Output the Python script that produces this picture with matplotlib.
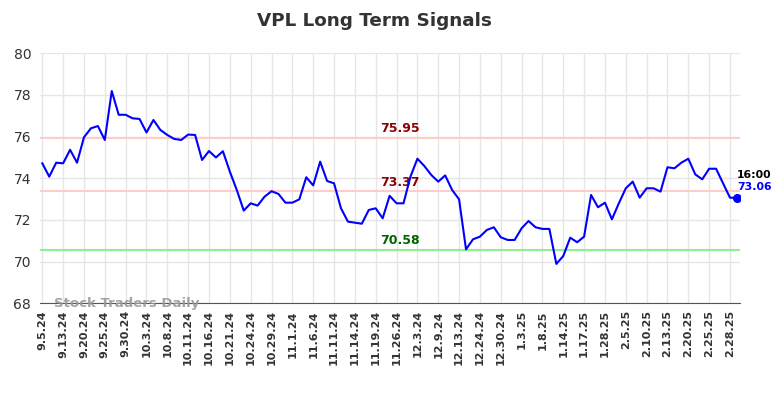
import matplotlib
matplotlib.use("Agg")
import matplotlib.pyplot as plt
import numpy as np

# daily closing values
prices = [74.72, 74.08, 74.75, 74.72, 75.37, 74.75, 75.97, 76.40, 76.51, 75.84,
          78.19, 77.05, 77.05, 76.88, 76.85, 76.20, 76.80, 76.32, 76.08, 75.89,
          75.84, 76.10, 76.08, 74.88, 75.31, 75.00, 75.30, 74.32, 73.44, 72.45,
          72.80, 72.69, 73.12, 73.38, 73.25, 72.83, 72.83, 72.99, 74.05, 73.66,
          74.80, 73.87, 73.76, 72.56, 71.92, 71.87, 71.82, 72.48, 72.56, 72.08,
          73.16, 72.80, 72.80, 74.08, 74.94, 74.59, 74.16, 73.84, 74.14, 73.44,
          72.99, 70.59, 71.07, 71.20, 71.52, 71.65, 71.17, 71.04, 71.04, 71.60,
          71.95, 71.65, 71.57, 71.57, 69.89, 70.27, 71.15, 70.93, 71.20, 73.20,
          72.61, 72.83, 72.03, 72.80, 73.52, 73.84, 73.07, 73.52, 73.52, 73.36,
          74.53, 74.48, 74.75, 74.94, 74.19, 73.95, 74.46, 74.46, 73.76, 73.07,
          73.06]

tick_labels = ['9.5.24', '9.13.24', '9.20.24', '9.25.24', '9.30.24', '10.3.24',
               '10.8.24', '10.11.24', '10.16.24', '10.21.24', '10.24.24', '10.29.24',
               '11.1.24', '11.6.24', '11.11.24', '11.14.24', '11.19.24', '11.26.24',
               '12.3.24', '12.9.24', '12.13.24', '12.24.24', '12.30.24', '1.3.25',
               '1.8.25', '1.14.25', '1.17.25', '1.28.25', '2.5.25', '2.10.25',
               '2.13.25', '2.20.25', '2.25.25', '2.28.25']

resistance = [75.95, 73.37]
support = [70.58]
last_time = '16:00'

x = np.arange(len(prices))
tick_pos = np.arange(0, len(tick_labels) * 3, 3)

fig = plt.figure(figsize=(7.84, 3.98), dpi=100)
ax = fig.add_axes([0.0504, 0.238, 0.894, 0.628])

for lvl in resistance:
    ax.axhline(lvl, color='#ffcccc', lw=1.5, zorder=1)
    ax.text(51.5, lvl + 0.12, f'{lvl:.2f}', color='#8b0000', fontsize=9,
            fontweight='bold', ha='center', va='bottom')
for lvl in support:
    ax.axhline(lvl, color='#90ee90', lw=1.5, zorder=1)
    ax.text(51.5, lvl + 0.12, f'{lvl:.2f}', color='#006400', fontsize=9,
            fontweight='bold', ha='center', va='bottom')

ax.plot(x, prices, color='blue', lw=1.5, zorder=3)
ax.plot(x[-1], prices[-1], 'o', color='blue', ms=5.5, zorder=4)
ax.text(x[-1] + 0.05, prices[-1] + 1.1, last_time, color='black', fontsize=7.8,
        fontweight='bold', ha='left', va='center')
ax.text(x[-1] + 0.05, prices[-1] + 0.5, f'{prices[-1]:.2f}', color='blue',
        fontsize=7.8, fontweight='bold', ha='left', va='center')

ax.text(1.7, 68.0, 'Stock Traders Daily', color='#999999', fontsize=9.5,
        fontweight='bold', ha='left', va='center', alpha=0.9)

ax.set_xlim(-0.4, 100.5)
ax.set_ylim(68, 80)
ax.set_yticks(np.arange(68, 81, 2))
ax.set_xticks(tick_pos)
ax.set_xticklabels(tick_labels, rotation=90, fontsize=8, fontweight='bold')
ax.tick_params(axis='both', length=0, colors='#333333')
ax.tick_params(axis='y', labelsize=10, pad=6)
ax.tick_params(axis='x', pad=5)
ax.grid(color='#e6e6e6', lw=1)
ax.set_axisbelow(True)
for s in ['top', 'right', 'left']:
    ax.spines[s].set_visible(False)
ax.spines['bottom'].set_color('#555555')

fig.suptitle('VPL Long Term Signals', x=0.478, y=0.97, fontsize=13.2,
             fontweight='bold', color='#333333')

fig.savefig('out.png', dpi=100)
